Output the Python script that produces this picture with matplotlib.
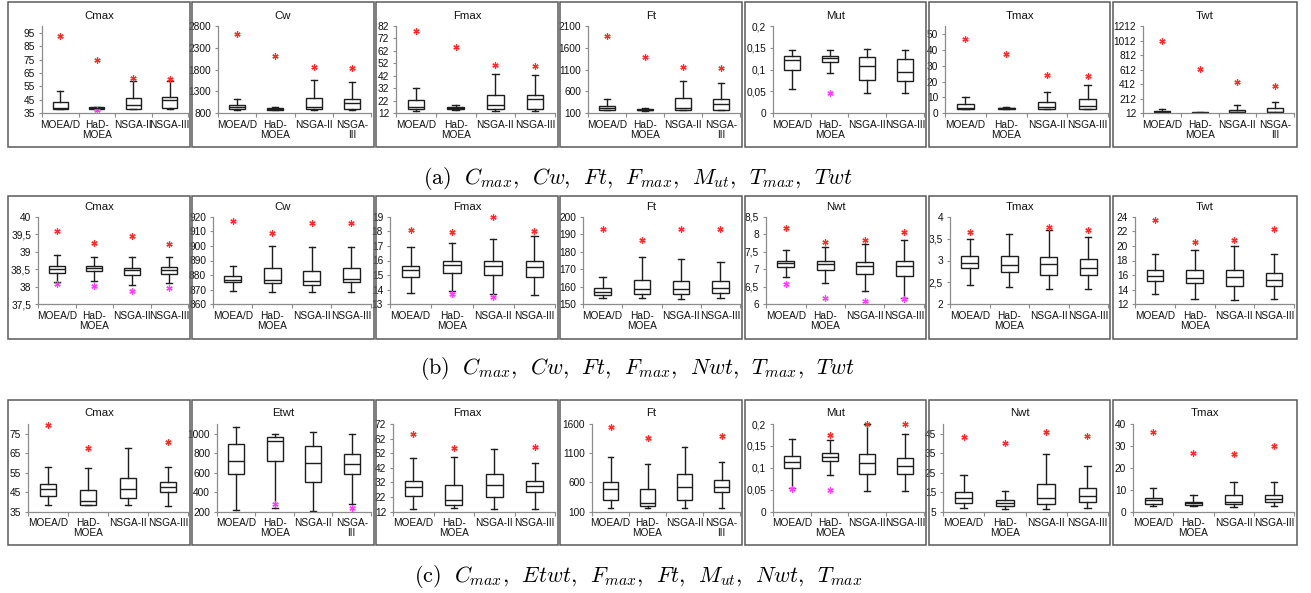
import numpy as np
import matplotlib.pyplot as plt
from matplotlib.patches import Rectangle
from matplotlib.ticker import FixedLocator, FuncFormatter

plt.rcParams['font.family'] = ['Liberation Sans', 'DejaVu Sans']
plt.rcParams['mathtext.fontset'] = 'cm'

nan = np.nan
W, H = 1311, 593

methods = ['MOEA/D', 'HaD-\nMOEA', 'NSGA-II', 'NSGA-III']
methods_wrap = ['MOEA/D', 'HaD-\nMOEA', 'NSGA-II', 'NSGA-\nIII']

# box stats per algorithm: [whisker low, Q1, median, Q3, whisker high]
# *_hi = worst value (red star), *_lo = best value (magenta star)

# ---- (a) ----
a_cmax = [[38.0, 38.3, 38.8, 43.5, 51.8], [38.2, 38.5, 39.2, 39.6, 40.0],
          [38.2, 38.5, 41.2, 46.4, 59.0], [38.2, 38.7, 44.9, 46.9, 59.0]]
a_cmax_hi = [92.3, 74.5, 61.0, 60.2]
a_cmax_lo = [nan, 37.6, nan, nan]

a_cw = [[876, 891, 937, 990, 1127], [875, 885, 905, 925, 935],
        [876, 891, 952, 1150, 1553], [876, 891, 1043, 1135, 1515]]
a_cw_hi = [2610, 2108, 1865, 1834]

a_fmax = [[14.1, 15.2, 16.8, 22.4, 32.0], [14.4, 15.2, 16.0, 17.0, 18.7],
          [13.9, 15.5, 18.7, 26.9, 43.9], [14.1, 15.7, 23.2, 26.4, 42.9]]
a_fmax_hi = [78.0, 65.2, 51.0, 50.3]

a_ft = [[168, 176, 215, 260, 420], [160, 168, 185, 200, 210],
        [168, 176, 229, 442, 838], [168, 176, 313, 427, 784]]
a_ft_hi = [1872, 1385, 1157, 1127]

a_mut = [[0.0548, 0.0996, 0.1232, 0.1316, 0.1445], [0.0928, 0.117, 0.127, 0.1316, 0.146],
         [0.0464, 0.076, 0.108, 0.1285, 0.148], [0.0464, 0.073, 0.0943, 0.1255, 0.1445]]
a_mut_lo = [nan, 0.0471, nan, nan]

a_tmax = [[2.7, 2.9, 3.3, 6.0, 10.4], [2.5, 2.7, 3.1, 3.3, 4.2],
          [2.5, 2.7, 3.75, 7.3, 13.7], [2.5, 2.7, 4.6, 8.75, 17.7]]
a_tmax_hi = [46.5, 37.1, 24.4, 23.5]

a_twt = [[21, 26, 30, 44, 71], [16, 19, 22, 28, 32],
         [21, 26, 30, 58, 122], [21, 26, 35, 80, 163]]
a_twt_hi = [1007, 619, 436, 386]

# ---- (b) ----
b_cmax = [[38.13, 38.39, 38.5, 38.6, 38.9], [38.17, 38.46, 38.55, 38.6, 38.85],
          [38.05, 38.35, 38.47, 38.55, 38.85], [38.1, 38.37, 38.48, 38.56, 38.85]]
b_cmax_hi = [39.59, 39.26, 39.45, 39.21]
b_cmax_lo = [38.07, 38.02, 37.87, 37.96]

b_cw = [[868.9, 875.1, 876.4, 879.2, 886.0], [868.2, 874.6, 876.7, 884.6, 899.7],
        [868.2, 873.2, 875.7, 883.0, 899.0], [868.7, 875.1, 877.6, 884.6, 899.5]]
b_cw_hi = [916.8, 908.6, 915.7, 915.7]

b_fmax = [[13.75, 14.89, 15.37, 15.65, 16.9], [13.89, 15.12, 15.69, 15.97, 17.22],
          [13.68, 15.0, 15.62, 15.97, 17.45], [13.66, 14.87, 15.53, 15.97, 17.65]]
b_fmax_hi = [18.07, 17.95, 18.95, 18.04]
b_fmax_lo = [nan, 13.71, 13.52, nan]

b_ft = [[153.6, 155.3, 156.8, 159.5, 165.8], [153.8, 155.7, 158.6, 164.1, 177.0],
        [153.0, 155.9, 158.7, 163.5, 176.0], [153.4, 156.5, 159.1, 163.5, 174.3]]
b_ft_hi = [193.0, 186.5, 192.8, 193.0]

b_nwt = [[6.78, 7.06, 7.17, 7.25, 7.56], [6.6, 6.99, 7.14, 7.25, 7.64],
         [6.39, 6.87, 7.09, 7.2, 7.71], [6.17, 6.81, 7.09, 7.23, 7.83]]
b_nwt_hi = [8.18, 7.78, 7.83, 8.05]
b_nwt_lo = [6.57, 6.17, 6.10, 6.15]

b_tmax = [[2.43, 2.84, 2.94, 3.1, 3.49], [2.4, 2.73, 2.89, 3.11, 3.6],
          [2.35, 2.68, 2.91, 3.09, 3.7], [2.35, 2.67, 2.83, 3.03, 3.53]]
b_tmax_hi = [3.66, nan, 3.77, 3.7]

b_twt = [[13.37, 15.15, 15.88, 16.65, 18.93], [12.78, 14.87, 15.6, 16.65, 19.39],
         [12.59, 14.55, 15.74, 16.74, 19.94], [12.78, 14.46, 15.28, 16.29, 18.93]]
b_twt_hi = [23.5, 20.53, 20.76, 22.36]

# ---- (c) ----
c_cmax = [[38.2, 43.0, 46.6, 49.0, 58.1], [38.2, 38.6, 40.3, 46.2, 57.3],
          [38.2, 41.8, 46.7, 52.5, 67.7], [38.1, 44.9, 47.9, 50.0, 57.8]]
c_cmax_hi = [79.3, 67.5, nan, 70.6]

c_etwt = [[220, 590, 716, 897, 1072], [241, 716, 921, 962, 1000],
          [210, 504, 696, 877, 1014], [282, 583, 689, 795, 1000]]
c_etwt_lo = [nan, 279, nan, 234]

c_fmax = [[14.1, 22.7, 28.7, 32.8, 48.5], [14.3, 16.6, 20.2, 30.0, 49.4],
          [14.1, 21.8, 30.0, 37.6, 54.7], [14.1, 25.2, 29.6, 33.2, 45.1]]
c_fmax_hi = [64.9, 55.3, nan, 56.0]

c_ft = [[157, 300, 482, 602, 1041], [163, 197, 243, 482, 916],
        [157, 294, 522, 739, 1212], [157, 431, 522, 636, 950]]
c_ft_hi = [1543, 1355, nan, 1389]

c_mut = [[0.0548, 0.0989, 0.1133, 0.1278, 0.165], [0.0844, 0.1148, 0.1255, 0.1338, 0.1635],
         [0.0471, 0.0867, 0.1118, 0.1308, 0.199], [0.0471, 0.0852, 0.105, 0.1217, 0.1764]]
c_mut_hi = [nan, 0.1741, 0.2, 0.2]
c_mut_lo = [0.0525, 0.0487, nan, nan]

c_nwt = [[6.7, 9.4, 11.8, 15.2, 23.7], [6.5, 7.7, 9.3, 11.0, 15.7],
         [6.5, 8.7, 12.1, 19.1, 34.8], [6.7, 10.1, 13.2, 17.3, 28.3]]
c_nwt_hi = [43.1, 40.2, 45.7, 44.0]

c_tmax = [[2.4, 3.7, 5.2, 6.4, 11.0], [2.4, 2.9, 3.8, 4.6, 7.6],
          [2.1, 3.4, 4.6, 7.8, 13.7], [2.4, 4.3, 5.6, 7.8, 13.4]]
c_tmax_hi = [36.5, 26.9, 26.3, 29.8]

none4 = [nan] * 4

# (title, stats, worst, best, ymin, ymax, tick step, tick max, labels)
rows = [
    [('Cmax', a_cmax, a_cmax_hi, a_cmax_lo, 35, 100, 10, 95, methods),
     ('Cw', a_cw, a_cw_hi, none4, 800, 2800, 500, 2800, methods_wrap),
     ('Fmax', a_fmax, a_fmax_hi, none4, 12, 82, 10, 82, methods),
     ('Ft', a_ft, a_ft_hi, none4, 100, 2100, 500, 2100, methods_wrap),
     ('Mut', a_mut, none4, a_mut_lo, 0, 0.2, 0.05, 0.2, methods),
     ('Tmax', a_tmax, a_tmax_hi, none4, 0, 55, 10, 50, methods),
     ('Twt', a_twt, a_twt_hi, none4, 12, 1212, 200, 1212, methods_wrap)],
    [('Cmax', b_cmax, b_cmax_hi, b_cmax_lo, 37.5, 40, 0.5, 40, methods),
     ('Cw', b_cw, b_cw_hi, none4, 860, 920, 10, 920, methods),
     ('Fmax', b_fmax, b_fmax_hi, b_fmax_lo, 13, 19, 1, 19, methods),
     ('Ft', b_ft, b_ft_hi, none4, 150, 200, 10, 200, methods),
     ('Nwt', b_nwt, b_nwt_hi, b_nwt_lo, 6, 8.5, 0.5, 8.5, methods),
     ('Tmax', b_tmax, b_tmax_hi, none4, 2, 4, 0.5, 4, methods),
     ('Twt', b_twt, b_twt_hi, none4, 12, 24, 2, 24, methods)],
    [('Cmax', c_cmax, c_cmax_hi, none4, 35, 80, 10, 75, methods),
     ('Etwt', c_etwt, none4, c_etwt_lo, 200, 1100, 200, 1000, methods_wrap),
     ('Fmax', c_fmax, c_fmax_hi, none4, 12, 72, 10, 72, methods),
     ('Ft', c_ft, c_ft_hi, none4, 100, 1600, 500, 1600, methods_wrap),
     ('Mut', c_mut, c_mut_hi, c_mut_lo, 0, 0.2, 0.05, 0.2, methods),
     ('Nwt', c_nwt, c_nwt_hi, none4, 5, 50, 10, 45, methods),
     ('Tmax', c_tmax, c_tmax_hi, none4, 0, 40, 10, 40, methods)],
]

captions = [r'$\mathrm{(a)}\ \ C_{max},\ \,Cw,\ \,Ft,\ \,F_{max},\ \,M_{ut},\ \,T_{max},\ \,Twt$',
            r'$\mathrm{(b)}\ \ C_{max},\ \,Cw,\ \,Ft,\ \,F_{max},\ \,Nwt,\ \,T_{max},\ \,Twt$',
            r'$\mathrm{(c)}\ \ C_{max},\ \,Etwt,\ \,F_{max},\ \,Ft,\ \,M_{ut},\ \,Nwt,\ \,T_{max}$']

# layout in pixels
panel_left = [8, 192, 376, 560, 745, 929, 1113]
panel_right = [190, 374, 558, 742, 926, 1110, 1297]
panel_top = [2, 196, 400]
panel_bottom = [147, 339, 545]
plot_top = [26, 216.7, 424]
plot_bottom = [113.3, 304.3, 511.7]
title_y = [16, 207, 413]
caption_y = [178, 369, 577]
plot_left = [[42, 218, 396, 588, 773, 945, 1143],
             [38, 213, 390, 583, 766, 950, 1135],
             [28, 217, 393, 592, 773, 943, 1133]]
plot_right = [188, 371, 555, 740, 924, 1108, 1294]

edge = '#1e1e1e'
axis_grey = '#8c8c8c'
comma_fmt = FuncFormatter(lambda v, p: f'{round(v, 6):g}'.replace('.', ','))

fig = plt.figure(figsize=(W / 100, H / 100), dpi=100)
fig.patch.set_facecolor('white')

for r, row in enumerate(rows):
    for c, (title, stats, worst, best, ymin, ymax, step, tmax, labels) in enumerate(row):
        # outer frame of the sub-chart
        fig.add_artist(Rectangle((panel_left[c] / W, 1 - panel_bottom[r] / H),
                                 (panel_right[c] - panel_left[c]) / W,
                                 (panel_bottom[r] - panel_top[r]) / H,
                                 transform=fig.transFigure, fill=False,
                                 edgecolor='#5a5a5a', linewidth=1.1))
        fig.text((panel_left[c] + panel_right[c]) / 2 / W, 1 - title_y[r] / H, title,
                 ha='center', va='center', fontsize=8.2, color='#111111')

        x0, x1 = plot_left[r][c], plot_right[c]
        ax = fig.add_axes([x0 / W, 1 - plot_bottom[r] / H, (x1 - x0) / W,
                           (plot_bottom[r] - plot_top[r]) / H])
        bstats = [dict(whislo=s[0], q1=s[1], med=s[2], q3=s[3], whishi=s[4], fliers=[])
                  for s in stats]
        ax.bxp(bstats, positions=[1, 2, 3, 4], widths=0.42, capwidths=0.16,
               showfliers=False, patch_artist=True,
               boxprops=dict(facecolor='white', edgecolor=edge, linewidth=1.0),
               medianprops=dict(color=edge, linewidth=1.0),
               whiskerprops=dict(color=edge, linewidth=1.0),
               capprops=dict(color=edge, linewidth=1.0))
        ax.plot([1, 2, 3, 4], worst, linestyle='none', marker=(6, 2, 0),
                markersize=4.5, markeredgewidth=0.9, color='#ff2a2a', clip_on=False)
        ax.plot([1, 2, 3, 4], best, linestyle='none', marker=(6, 2, 0),
                markersize=4.5, markeredgewidth=0.9, color='#ff3cff', clip_on=False)

        ax.set_xlim(0.5, 4.5)
        ax.set_ylim(ymin, ymax)
        ax.yaxis.set_major_locator(FixedLocator(np.arange(ymin, tmax + step / 2, step)))
        ax.yaxis.set_major_formatter(comma_fmt)
        ax.xaxis.set_major_locator(FixedLocator([0.5, 1.5, 2.5, 3.5, 4.5]))
        ax.xaxis.set_major_formatter(FuncFormatter(lambda v, p: ''))
        ax.xaxis.set_minor_locator(FixedLocator([1, 2, 3, 4]))
        ax.set_xticklabels(labels, minor=True)
        ax.tick_params(axis='x', which='major', direction='out', length=3, width=0.8,
                       color=axis_grey)
        ax.tick_params(axis='x', which='minor', length=0, pad=4.5, labelsize=7.3,
                       labelcolor='#111111')
        ax.tick_params(axis='y', direction='out', length=2.5, width=0.8, color=axis_grey,
                       pad=2.5, labelsize=7.3, labelcolor='#111111')
        for lbl in ax.get_xticklabels(minor=True):
            lbl.set_linespacing(1.05)
        for side in ['top', 'right']:
            ax.spines[side].set_visible(False)
        for side in ['left', 'bottom']:
            ax.spines[side].set_color(axis_grey)
            ax.spines[side].set_linewidth(0.9)
        ax.patch.set_alpha(0)

    fig.text(638 / W, 1 - caption_y[r] / H, captions[r], ha='center', va='center',
             fontsize=16, color='black')

fig.savefig('out.png', dpi=100)
